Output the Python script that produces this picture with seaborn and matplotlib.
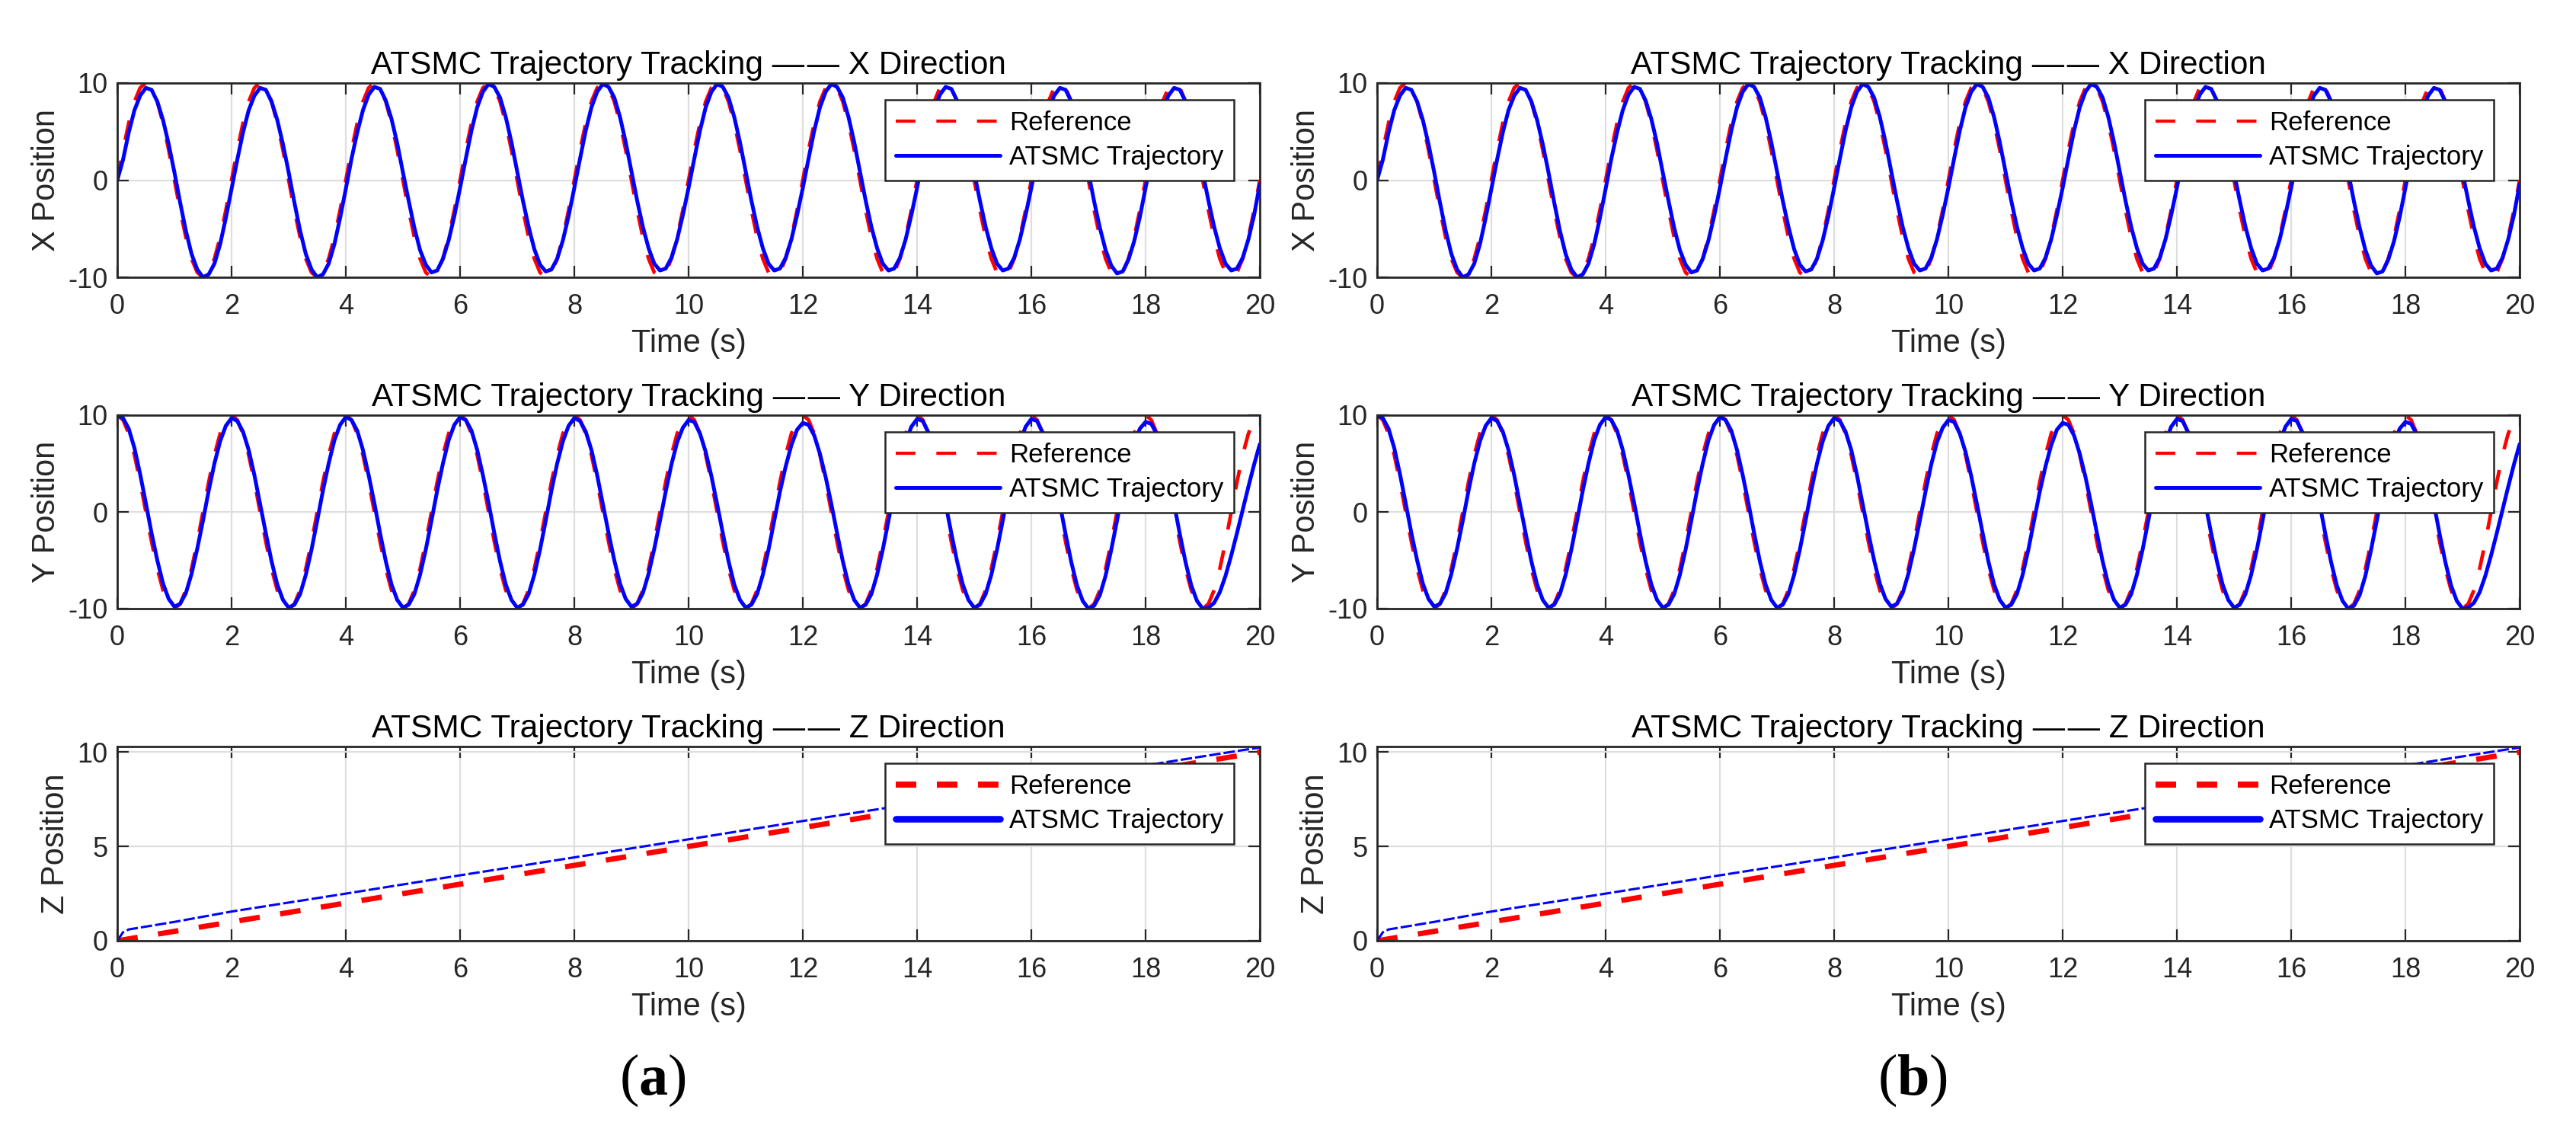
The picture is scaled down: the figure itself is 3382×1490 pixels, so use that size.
import numpy as np
import matplotlib
matplotlib.use("Agg")
import matplotlib.pyplot as plt
from matplotlib.lines import Line2D
import seaborn as sns

# ---------------- data ----------------
time_s = np.round(np.arange(201) * 0.1, 1)          # sampling grid 0..20 s, 0.1 s

# reference X / Y over one 2-s cycle (samples every 0.1 s), identical every cycle
x_ref_cycle = [0.0, 3.09, 5.88, 8.09, 9.51, 10.0, 9.51, 8.09, 5.88, 3.09,
               0.0, -3.09, -5.88, -8.09, -9.51, -10.0, -9.51, -8.09, -5.88, -3.09]
y_ref_cycle = [10.0, 9.51, 8.09, 5.88, 3.09, 0.0, -3.09, -5.88, -8.09, -9.51,
               -10.0, -9.51, -8.09, -5.88, -3.09, 0.0, 3.09, 5.88, 8.09, 9.51]
x_reference = x_ref_cycle * 10 + [0.0]
y_reference = y_ref_cycle * 10 + [10.0]

# ATSMC trajectory, X direction (one row per 2-s cycle, t = 2c+0.1 ... 2c+2.0)
x_atsmc_rows = [
    [2.1, 4.9, 7.2, 8.7, 9.5, 9.3, 8.1, 6.2, 3.7, 0.8, -2.3, -5.2, -7.6, -9.2, -10.0, -9.7, -8.6, -6.6, -3.9, -0.9],
    [2.1, 4.9, 7.2, 8.7, 9.5, 9.3, 8.1, 6.2, 3.7, 0.8, -2.3, -5.2, -7.6, -9.2, -10.0, -9.7, -8.6, -6.6, -3.9, -0.9],
    [2.2, 4.9, 7.2, 8.8, 9.6, 9.4, 8.2, 6.3, 3.8, 0.8, -2.1, -4.9, -7.2, -8.7, -9.5, -9.3, -8.1, -6.2, -3.7, -0.8],
    [2.2, 5.1, 7.5, 9.1, 9.9, 9.6, 8.5, 6.5, 3.9, 0.9, -2.1, -4.8, -7.1, -8.7, -9.4, -9.2, -8.1, -6.2, -3.7, -0.8],
    [2.2, 5.1, 7.5, 9.1, 9.9, 9.6, 8.5, 6.5, 3.9, 0.9, -2.1, -4.8, -7.0, -8.6, -9.3, -9.1, -8.0, -6.1, -3.6, -0.8],
    [2.2, 5.1, 7.5, 9.1, 9.9, 9.6, 8.5, 6.5, 3.9, 0.9, -2.1, -4.8, -7.0, -8.6, -9.3, -9.1, -8.0, -6.1, -3.6, -0.8],
    [2.2, 5.1, 7.5, 9.1, 9.9, 9.6, 8.5, 6.5, 3.9, 0.9, -2.1, -4.8, -7.0, -8.6, -9.3, -9.1, -8.0, -6.1, -3.6, -0.8],
    [2.2, 4.9, 7.2, 8.8, 9.6, 9.4, 8.2, 6.3, 3.8, 0.8, -2.1, -4.8, -7.0, -8.6, -9.3, -9.1, -8.0, -6.1, -3.6, -0.8],
    [2.1, 4.9, 7.2, 8.7, 9.5, 9.3, 8.1, 6.2, 3.7, 0.8, -2.2, -4.9, -7.2, -8.8, -9.6, -9.4, -8.2, -6.3, -3.8, -0.8],
    [2.1, 4.9, 7.2, 8.7, 9.5, 9.3, 8.1, 6.2, 3.7, 0.8, -2.1, -4.8, -7.0, -8.6, -9.3, -9.1, -8.0, -6.1, -3.6, -0.4],
]
x_atsmc = [0.0] + [v for row in x_atsmc_rows for v in row]

# ATSMC trajectory, Y direction
y_atsmc_rows = [
    [9.7, 8.6, 6.6, 3.9, 0.9, -2.2, -5.0, -7.4, -9.0, -9.8, -9.5, -8.4, -6.4, -3.8, -0.9, 2.2, 5.0, 7.3, 8.9, 9.7],
    [9.4, 8.3, 6.4, 3.8, 0.8, -2.2, -5.1, -7.5, -9.1, -9.9, -9.6, -8.5, -6.5, -3.9, -0.9, 2.2, 5.0, 7.4, 9.0, 9.8],
    [9.5, 8.4, 6.4, 3.8, 0.9, -2.2, -5.1, -7.5, -9.1, -9.9, -9.6, -8.5, -6.5, -3.9, -0.9, 2.2, 5.0, 7.4, 9.0, 9.8],
    [9.5, 8.4, 6.4, 3.8, 0.9, -2.2, -5.1, -7.5, -9.1, -9.9, -9.6, -8.5, -6.5, -3.9, -0.9, 2.2, 5.0, 7.3, 8.9, 9.7],
    [9.4, 8.3, 6.4, 3.8, 0.8, -2.2, -5.0, -7.4, -9.0, -9.8, -9.5, -8.4, -6.4, -3.8, -0.9, 2.1, 4.9, 7.2, 8.7, 9.5],
    [9.3, 8.1, 6.2, 3.7, 0.8, -2.2, -5.1, -7.5, -9.1, -9.9, -9.6, -8.5, -6.5, -3.9, -0.9, 2.1, 4.7, 6.9, 8.5, 9.2],
    [9.0, 7.9, 6.0, 3.6, 0.8, -2.2, -5.1, -7.5, -9.1, -9.9, -9.6, -8.5, -6.5, -3.9, -0.9, 2.2, 4.9, 7.2, 8.8, 9.6],
    [9.4, 8.2, 6.3, 3.8, 0.8, -2.2, -5.1, -7.5, -9.1, -9.9, -9.6, -8.5, -6.5, -3.9, -0.9, 2.2, 4.9, 7.2, 8.8, 9.6],
    [9.4, 8.2, 6.3, 3.8, 0.8, -2.3, -5.2, -7.6, -9.2, -10.0, -9.7, -8.6, -6.6, -3.9, -0.9, 2.1, 4.8, 7.0, 8.6, 9.3],
    [9.1, 8.0, 6.1, 3.6, 0.8, -2.3, -5.2, -7.6, -9.2, -10.0, -9.9, -9.4, -8.3, -6.6, -4.5, -2.2, 0.2, 2.6, 4.9, 7.0],
]
y_atsmc = [10.0] + [v for row in y_atsmc_rows for v in row]

# Z direction
z_time = [0, 0.1, 0.2, 0.5, 1, 2, 4, 6, 8, 10, 12, 14, 16, 18, 20]
z_reference = [0, 0.05, 0.1, 0.25, 0.5, 1, 2, 3, 4, 5, 6, 7, 8, 9, 10]
z_atsmc = [0, 0.45, 0.6, 0.75, 1.0, 1.55, 2.5, 3.47, 4.42, 5.38, 6.35, 7.3, 8.3, 9.3, 10.25]

x_ticks = list(range(0, 21, 2))
xy_yticks = [-10, 0, 10]
z_yticks = [0, 5, 10]
legend_labels = ["Reference", "ATSMC Trajectory"]
titles = ["ATSMC Trajectory Tracking \u2014\u200a\u2014 X Direction",
          "ATSMC Trajectory Tracking \u2014\u200a\u2014 Y Direction",
          "ATSMC Trajectory Tracking \u2014\u200a\u2014 Z Direction"]
ylabels = ["X Position", "Y Position", "Z Position"]
panel_tags = ["a", "b"]

# ---------------- style ----------------
sns.set_theme(style="white")
plt.rcParams["font.family"] = ["Liberation Sans", "DejaVu Sans"]
plt.rcParams["axes.unicode_minus"] = False
plt.rcParams["mathtext.fontset"] = "custom"
plt.rcParams["mathtext.rm"] = "Liberation Serif"
plt.rcParams["mathtext.bf"] = "Liberation Serif:bold"

W, H = 3382, 1490
fig = plt.figure(figsize=(W / 100, H / 100), dpi=100)

RED = "#ff0000"
BLUE = "#0000ff"
DARK = "#262626"

panel_left = [154, 1808]
row_px = [(109, 364), (545, 799), (980, 1235)]
ax_w = 1500


def style_axes(ax, title, ylabel, yticks, ylim):
    ax.set_xlim(0, 20)
    ax.set_ylim(*ylim)
    ax.set_xticks(x_ticks)
    ax.set_yticks(yticks)
    ax.set_axisbelow(True)
    ax.grid(True, color="#dedede", lw=1.6)
    for s in ax.spines.values():
        s.set_visible(True)
        s.set_color(DARK)
        s.set_linewidth(2.0)
    ax.tick_params(axis="both", direction="in", length=10.8, width=1.6,
                   color=DARK, labelcolor=DARK, labelsize=26,
                   top=True, right=True, bottom=True, left=True)
    ax.tick_params(axis="x", pad=15)
    ax.tick_params(axis="y", pad=9)
    ax.set_title(title, fontsize=30.5, pad=8.5, color="black")
    ax.set_xlabel("Time (s)", fontsize=30, labelpad=8, color=DARK)
    ax.set_ylabel(ylabel, fontsize=30, labelpad=6, color=DARK)


for p, left in enumerate(panel_left):
    for r, (top, bot) in enumerate(row_px):
        ax = fig.add_axes([left / W, 1 - bot / H, ax_w / W, (bot - top) / H])
        if r < 2:
            t = time_s
            ref = x_reference if r == 0 else y_reference
            act = x_atsmc if r == 0 else y_atsmc
            sns.lineplot(x=t, y=ref, ax=ax, color=RED, lw=3.4, estimator=None, sort=False)
            ax.lines[-1].set_dashes((5.5, 5.9))
            sns.lineplot(x=t, y=act, ax=ax, color=BLUE, lw=3.6, estimator=None, sort=False)
            style_axes(ax, titles[r], ylabels[r], xy_yticks, (-10, 10))
            h_ref = Line2D([], [], color=RED, lw=3.0, dashes=(6.2, 6.6))
            h_act = Line2D([], [], color=BLUE, lw=3.6)
        else:
            sns.lineplot(x=z_time, y=z_reference, ax=ax, color=RED, lw=5.0, estimator=None, sort=False)
            ax.lines[-1].set_dashes((3.9, 3.9))
            sns.lineplot(x=z_time, y=z_atsmc, ax=ax, color=BLUE, lw=2.2, estimator=None, sort=False)
            ax.lines[-1].set_dashes((4.9, 1.3))
            style_axes(ax, titles[r], ylabels[r], z_yticks, (0, 10.3))
            h_ref = Line2D([], [], color=RED, lw=5.8, dashes=(3.35, 3.35))
            h_act = Line2D([], [], color=BLUE, lw=6.2)
        leg = ax.legend([h_ref, h_act], legend_labels, loc="upper right",
                        bbox_to_anchor=(0.9773, 0.914), borderaxespad=0,
                        fontsize=25, handlelength=3.95, handletextpad=0.35,
                        borderpad=0.4, labelspacing=0.35, frameon=True,
                        fancybox=False, framealpha=1.0, edgecolor=DARK)
        leg.get_frame().set_linewidth(1.8)
        for txt in leg.get_texts():
            txt.set_color("black")

    fig.text((left + 703) / W, 1 - 1437 / H, "($\\mathbf{" + panel_tags[p] + "}$)",
             ha="center", va="baseline", fontsize=55, family="Liberation Serif",
             color="black")

fig.savefig("out.png", dpi=100)
